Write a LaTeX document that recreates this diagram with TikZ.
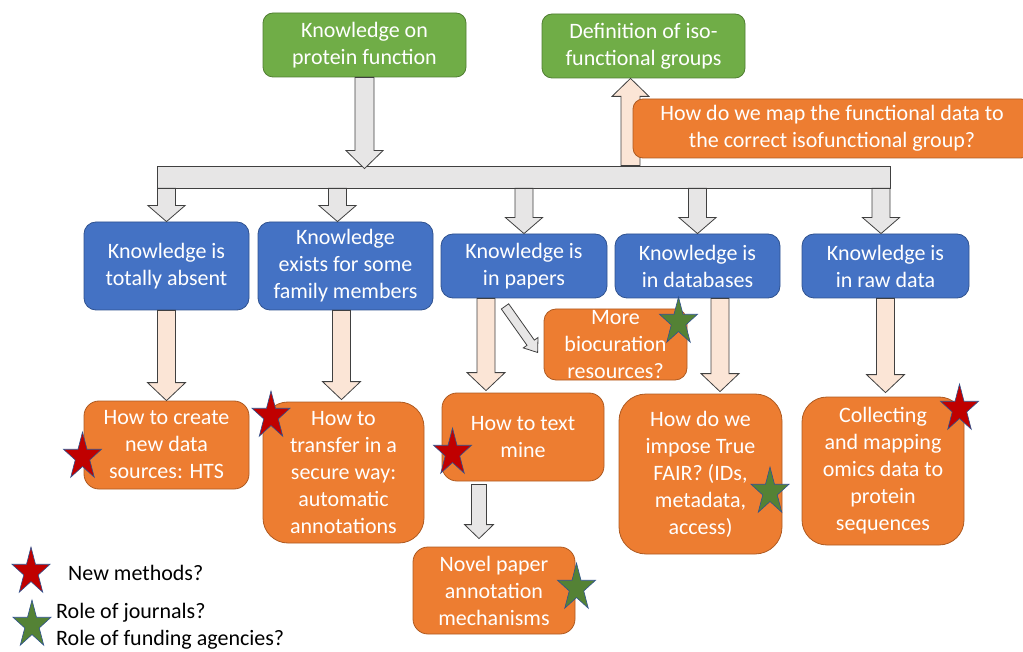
\documentclass[tikz,border=0pt]{standalone}
\usepackage{fontspec}
\setmainfont{Carlito}
\usepackage{tikz}
\usetikzlibrary{calc}

\definecolor{boxgreen}{HTML}{70AD47}
\definecolor{greenline}{HTML}{507E32}
\definecolor{boxblue}{HTML}{4472C4}
\definecolor{blueline}{HTML}{2F528F}
\definecolor{boxorange}{HTML}{ED7D31}
\definecolor{orangeline}{HTML}{AE5A21}
\definecolor{arrowpeach}{HTML}{FBE5D6}
\definecolor{arrowgray}{HTML}{E7E6E6}
\definecolor{arrowline}{HTML}{404040}
\definecolor{starred}{HTML}{C00000}
\definecolor{stargreen}{HTML}{548235}

% block arrow: [style]{from}{to}{shaft half width}{head half width}{head length}
\newcommand{\blockarrow}[6][]{%
  \coordinate (arrowfrom) at (#2);
  \coordinate (arrowto) at (#3);
  \coordinate (arrowbase) at ($(arrowto)!#6pt!(arrowfrom)$);
  \draw[#1] ($(arrowfrom)!#4pt!90:(arrowto)$) -- ($(arrowbase)!#4pt!-90:(arrowfrom)$)
    -- ($(arrowbase)!#5pt!-90:(arrowfrom)$) -- (arrowto)
    -- ($(arrowbase)!#5pt!90:(arrowfrom)$) -- ($(arrowbase)!#4pt!90:(arrowfrom)$)
    -- ($(arrowfrom)!#4pt!-90:(arrowto)$) -- cycle;}

% five-pointed star: {style}{centre}
\newcommand{\starmark}[2]{%
  \filldraw[#1, shift={(#2)}] (-90:20 and 25)
    \foreach \k [evaluate=\k as \rr using {isodd(\k) ? 0.382 : 1}] in {1,...,9}
      { -- ({-90+36*\k}:{20*\rr} and {25*\rr}) } -- cycle;}

\begin{document}
\begin{tikzpicture}[x=1pt, y=-1pt,
    every node/.style={font=\fontsize{22}{27}\selectfont},
    greenbox/.style={draw=greenline, fill=boxgreen, text=white, line width=0.8pt,
      rounded corners=10pt, align=center, inner sep=0pt},
    bluebox/.style={draw=blueline, fill=boxblue, text=white, line width=0.8pt,
      rounded corners=12pt, align=center, inner sep=0pt},
    orangebox/.style={draw=orangeline, fill=boxorange, text=white, line width=0.8pt,
      rounded corners=15pt, align=center, inner sep=0pt},
    barbox/.style={draw=arrowline, fill=arrowgray, line width=0.8pt, inner sep=0pt},
    grayarrow/.style={draw=arrowline, fill=arrowgray, line width=0.8pt},
    peacharrow/.style={draw=arrowline, fill=arrowpeach, line width=0.8pt},
    redstar/.style={draw=blueline, fill=starred, line width=0.6pt},
    greenstar/.style={draw=blueline, fill=stargreen, line width=0.6pt},
    legendtext/.style={anchor=west, inner sep=0pt},
  ]
  \useasboundingbox (0,0) rectangle (1023,652);

  \node at (364.5,45) (know) [greenbox, minimum width=203pt, minimum height=64pt] {Knowledge on\\protein function};
  \node at (643.5,46) (isodef) [greenbox, minimum width=203pt, minimum height=64pt] {Definition of iso-\\functional groups};
  \node at (523.5,177) (bar) [barbox, minimum width=733pt, minimum height=22pt] {};

  \node at (166.5,266) (absent) [bluebox, minimum width=165pt, minimum height=88pt] {Knowledge is\\totally absent};
  \node at (345.5,266) (family) [bluebox, minimum width=175pt, minimum height=88pt] {Knowledge\\exists for some\\family members};
  \node at (524,266) (papers) [bluebox, minimum width=166pt, minimum height=64pt] {Knowledge is\\in papers};
  \node at (697.5,266) (databases) [bluebox, minimum width=165pt, minimum height=64pt] {Knowledge is\\in databases};
  \node at (885.5,266) (rawdata) [bluebox, minimum width=167pt, minimum height=64pt] {Knowledge is\\in raw data};

  \node at (166.5,445) (hts) [orangebox, minimum width=165pt, minimum height=88pt] {How to create\\new data\\sources: HTS};
  \node at (343.5,472.5) (transfer) [orangebox, rounded corners=25pt, minimum width=161pt, minimum height=141pt] {How to\\transfer in a\\secure way:\\automatic\\annotations};
  \node at (523,437) (textmine) [orangebox, minimum width=162pt, minimum height=88pt] {How to text\\mine};
  \node at (615.5,344.5) (biocur) [orangebox, rounded corners=12pt, minimum width=143pt, minimum height=71pt] {More\\biocuration\\resources?};
  \node at (700.5,474) (fair) [orangebox, rounded corners=27pt, minimum width=163pt, minimum height=160pt] {How do we\\impose True\\FAIR? (IDs,\\metadata,\\access)};
  \node at (883,471) (omics) [orangebox, rounded corners=25pt, minimum width=162pt, minimum height=148pt] {Collecting\\and mapping\\omics data to\\protein\\sequences};
  \node at (494,590.5) (novel) [orangebox, minimum width=162pt, minimum height=87pt] {Novel paper\\annotation\\mechanisms};

  \blockarrow[grayarrow]{know.south}{$(know.south |- bar.north)+(0,3)$}{9.5}{18.5}{18}
  \blockarrow[grayarrow]{absent.north |- bar.south}{absent.north}{9}{18.5}{16}
  \blockarrow[grayarrow]{$(family.north |- bar.south)+(-8,0)$}{$(family.north)+(-8,0)$}{9}{18.5}{16}
  \blockarrow[grayarrow]{papers.north |- bar.south}{papers.north}{9}{18.5}{16}
  \blockarrow[grayarrow]{databases.north |- bar.south}{databases.north}{9}{18.5}{16}
  \blockarrow[grayarrow]{$(rawdata.north |- bar.south)+(-4.5,0)$}{$(rawdata.north)+(-4.5,0)$}{9}{18.5}{16}
  \blockarrow[peacharrow]{$(isodef.south |- bar.north)+(-13,0)$}{$(isodef.south)+(-13,0)$}{9.5}{18.5}{18}

  \blockarrow[peacharrow]{absent.south}{hts.north}{9}{19}{18}
  \blockarrow[peacharrow]{$(family.south)+(-4,0)$}{$(family.south |- transfer.north)+(-4,-2)$}{9}{19}{18}
  \blockarrow[peacharrow]{$(papers.south)+(-38,0)$}{$(papers.south |- textmine.north)+(-38,-2)$}{9}{19}{18}
  \blockarrow[peacharrow]{$(databases.south)+(22.5,0)$}{$(databases.south |- fair.north)+(22.5,-2)$}{9}{19}{18}
  \blockarrow[peacharrow]{rawdata.south}{$(rawdata.south |- omics.north)+(0,-4)$}{9}{19}{18}
  \blockarrow[grayarrow]{$(textmine.south)+(-44,3)$}{$(textmine.south |- novel.north)+(-44,-8)$}{7.5}{14.5}{14}
  \blockarrow[grayarrow]{$(papers.south)+(-19,8)$}{$(biocur.west)+(-6,8)$}{4.5}{9}{12}

  \node at (832,128.5) (mapq) [orangebox, rounded corners=10pt, minimum width=398pt, minimum height=59pt] {How do we map the functional data to\\the correct isofunctional group?};

  \starmark{redstar}{82.5,457}
  \starmark{redstar}{271,416}
  \starmark{redstar}{452.5,453}
  \starmark{greenstar}{678.5,322}
  \starmark{greenstar}{770,492}
  \starmark{redstar}{959.5,409}
  \starmark{greenstar}{576.5,588}
  \starmark{redstar}{31,572}
  \starmark{greenstar}{32,625}

  \node at (68,573) (newmethods) [legendtext] {New methods?};
  \node at (56,613) (journals) [legendtext] {Role of journals?};
  \node at (56,640) (funding) [legendtext] {Role of funding agencies?};
\end{tikzpicture}
\end{document}
